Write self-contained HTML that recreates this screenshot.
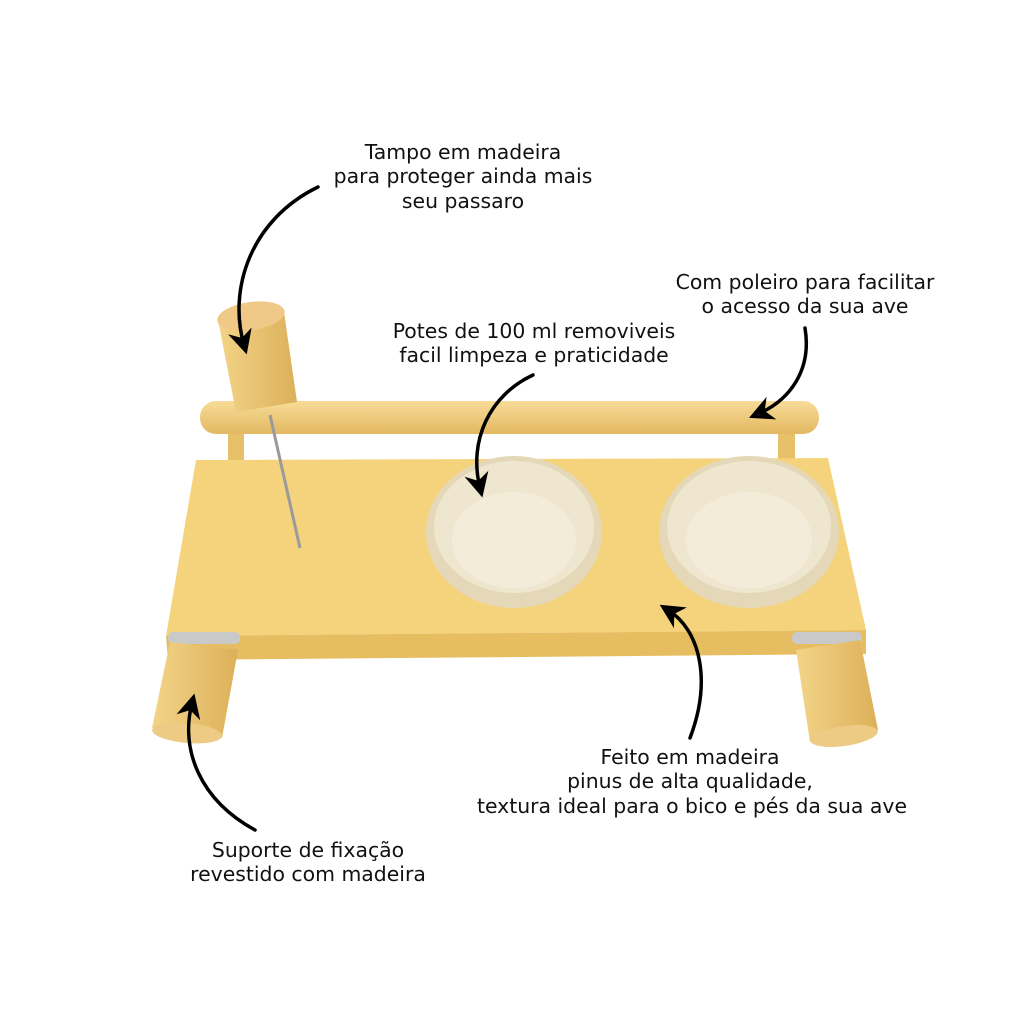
<!DOCTYPE html>
<html><head><meta charset="utf-8"><style>
html,body{margin:0;padding:0;background:#fff;}
svg{display:block}
text{font-family:"DejaVu Sans",sans-serif;font-size:20.4px;fill:#111;text-anchor:middle}
</style></head><body>
<svg width="1024" height="1024" viewBox="0 0 1024 1024" xmlns="http://www.w3.org/2000/svg">
<defs>
<marker id="ah" viewBox="0 0 10 10" refX="6" refY="5" markerWidth="7" markerHeight="7" orient="auto">
<path d="M0,0 L10,5 L0,10 L3,5 z" fill="#000"/></marker>
<linearGradient id="rod" x1="0" y1="0" x2="0" y2="1"><stop offset="0" stop-color="#f7dc98"/><stop offset="1" stop-color="#e3b862"/></linearGradient>
<linearGradient id="leg" x1="0" y1="0" x2="1" y2="0"><stop offset="0" stop-color="#f3d488"/><stop offset="1" stop-color="#dcb05a"/></linearGradient>
</defs>
<rect x="228" y="424" width="16" height="42" fill="#e7c06a"/>
<rect x="778" y="424" width="17" height="42" fill="#e7c06a"/>
<rect x="200" y="401" width="619" height="33" rx="16" fill="url(#rod)"/>
<polygon points="196,460 828,458 866,630 166,636" fill="#f4d37c"/>
<polygon points="166,636 866,630 866,654 168,660" fill="#e6bd60"/>
<ellipse cx="514" cy="532" rx="88" ry="76" fill="#e4d8b8"/>
<ellipse cx="514" cy="527" rx="80" ry="66" fill="#efe6cf"/>
<ellipse cx="514" cy="540" rx="62" ry="48" fill="#f3ecd9"/>
<ellipse cx="749" cy="532" rx="90" ry="76" fill="#e4d8b8"/>
<ellipse cx="749" cy="527" rx="82" ry="66" fill="#efe6cf"/>
<ellipse cx="749" cy="540" rx="63" ry="48" fill="#f3ecd9"/>
<line x1="270" y1="415" x2="300" y2="548" stroke="#9a9a9a" stroke-width="3"/>
<polygon points="218,320 284,312 297,402 236,412" fill="url(#leg)"/>
<ellipse cx="251" cy="316" rx="34" ry="14" fill="#f0c888" transform="rotate(-8 251 316)"/>
<rect x="168" y="632" width="72" height="12" rx="5" fill="#c9c9c9"/>
<polygon points="170,642 238,650 222,738 152,728" fill="url(#leg)"/>
<ellipse cx="187" cy="733" rx="35" ry="10" fill="#eecb85" transform="rotate(5 187 733)"/>
<rect x="792" y="632" width="70" height="12" rx="5" fill="#c9c9c9"/>
<polygon points="796,650 860,640 878,730 810,742" fill="url(#leg)"/>
<ellipse cx="844" cy="736" rx="34" ry="10" fill="#eecb85" transform="rotate(-8 844 736)"/>
<g fill="none" stroke="#000" stroke-width="3.5" stroke-linecap="round" marker-end="url(#ah)">
<path d="M318,187 C250,220 228,290 244,345"/>
<path d="M805,328 C812,370 790,400 758,414"/>
<path d="M533,375 C490,395 468,440 480,488"/>
<path d="M690,738 C712,680 700,630 668,610"/>
<path d="M255,830 C200,800 180,750 192,703"/>
</g>
<text x="463" y="159">Tampo em madeira</text>
<text x="463" y="183">para proteger ainda mais</text>
<text x="463" y="208">seu passaro</text>
<text x="805" y="289">Com poleiro para facilitar</text>
<text x="805" y="313">o acesso da sua ave</text>
<text x="534" y="338">Potes de 100 ml removiveis</text>
<text x="534" y="362">facil limpeza e praticidade</text>
<text x="690" y="764">Feito em madeira</text>
<text x="690" y="788">pinus de alta qualidade,</text>
<text x="692" y="813">textura ideal para o bico e pés da sua ave</text>
<text x="308" y="857">Suporte de fixação</text>
<text x="308" y="881">revestido com madeira</text>
</svg>
</body></html>
